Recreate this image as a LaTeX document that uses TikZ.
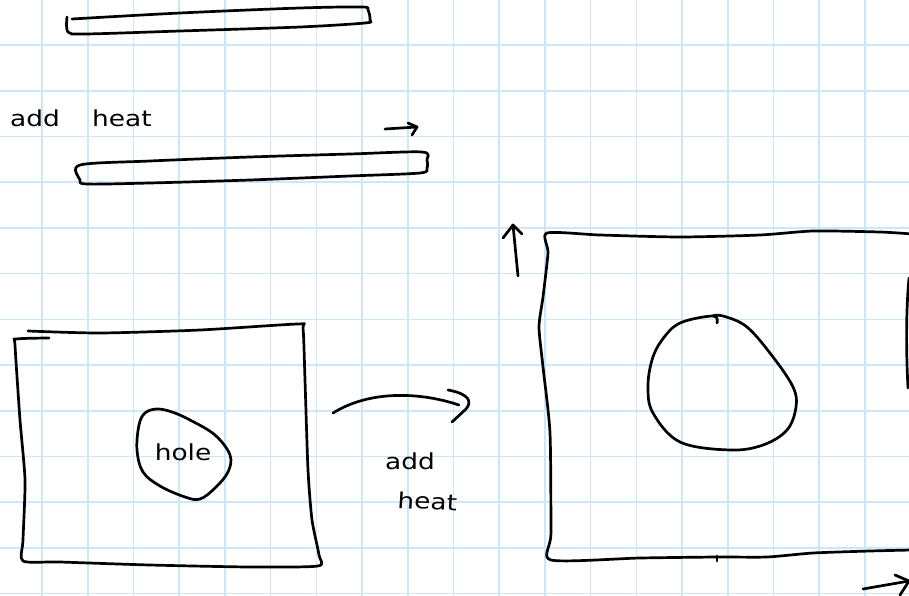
\documentclass[tikz,border=0pt]{standalone}
\usepackage{fontspec}
\newfontfamily\handfont{DejaVu Sans}
\definecolor{gridc}{RGB}{204,230,250}
\begin{document}
\begin{tikzpicture}[x=1pt,y=-1pt,
  pen/.style={draw=black,line width=2.7pt,line cap=round,line join=round},
  gridline/.style={draw=gridc,line width=1.6pt},
  handtext/.style={font=\handfont\fontsize{22}{24}\selectfont,inner sep=0pt,xscale=1.2},
  hand/.style={handtext,anchor=base west}]
\useasboundingbox (0,0) rectangle (909,596);
\clip (0,0) rectangle (909,596);
\fill[white] (0,0) rectangle (909,596);
% grid
\foreach \k in {0,...,18} \draw[gridline] ({42+45.72*\k},0) -- ({42+45.72*\k},596);
\foreach \k in {0,...,12} \draw[gridline] (0,{45+45.72*\k}) -- (909,{45+45.72*\k});
% top bar
\draw[pen] plot[smooth,tension=0.5] coordinates {(72,19) (180,13) (300,8) (362,7) (368,10) (370,20) (365,23) (300,27) (180,31) (85,34) (68,32) (67,17)};
% text add heat (top-left)
\node[hand] (add1) at (10,127) {add};
\node[hand] (heat1) at (92,127) {heat};
% small arrow
\coordinate (sa1) at (385,129);
\coordinate (sa2) at (417,127);
\draw[pen] (sa1) -- (sa2);
\draw[pen] (408,123) -- (sa2) -- (412,135);
% second bar
\draw[pen] plot[smooth cycle,tension=0.5] coordinates {(80,165) (150,161) (250,157) (350,154) (422,152) (427,160) (427,168) (420,173) (350,176) (250,180) (150,183) (87,184) (80,180)};
% left big rectangle
\draw[pen] plot[smooth,tension=0.4] coordinates {(28,331) (100,333) (200,330) (298,324) (303,328) (305,380) (308,470) (312,520) (319,555) (318,566) (250,567) (150,565) (60,562) (23,561) (23,540) (25,480) (20,420) (15,345) (16,339) (49,338)};
% hole
\draw[pen] plot[smooth cycle,tension=0.6] coordinates {(145,413) (157,409) (172,412) (190,420) (215,435) (230,455) (228,472) (215,488) (200,499) (185,497) (160,486) (143,472) (137,450) (139,425)};
\node[handtext] (hole) at (183,452) {hole};
% curved arrow
\coordinate (ca1) at (333,413);
\coordinate (ca2) at (459,405);
\draw[pen] (ca1) .. controls (370,390) and (420,392) .. (ca2);
\draw[pen] (448,390) .. controls (470,394) and (472,402) .. (466,409) -- (452,422);
% middle text
\node[hand] (add2) at (385,469) {add};
\node[hand,rotate=-3] (heat2) at (397,508) {heat};
% up arrow
\coordinate (ua1) at (518,276);
\coordinate (ua2) at (513,225);
\draw[pen] (ua1) -- (ua2);
\draw[pen] (503,238) -- (ua2) -- (522,234);
% right big rectangle
\draw[pen] plot[smooth,tension=0.4] coordinates {(912,234) (880,232) (813,231) (760,235) (680,237) (600,235) (547,233) (548,253) (543,297) (539,327) (543,367) (550,433) (551,533) (551,560) (640,558) (717,557) (767,557) (813,553) (870,551) (912,550)};
\draw[pen] (909,278) .. controls (906,310) and (906,350) .. (908,388);
\draw[pen] (717,556) -- (717,561);
% egg
\draw[pen] plot[smooth,tension=0.6] coordinates {(717,323) (713,316) (680,323) (662,340) (652,360) (648,387) (653,413) (680,442) (730,450) (763,445) (787,430) (796,407) (793,387) (773,357) (747,327) (723,316) (712,316)};
% bottom-right arrow
\coordinate (ba1) at (863,589);
\coordinate (ba2) at (909,581);
\draw[pen] (ba1) -- (ba2);
\draw[pen] (895,575) -- (ba2) -- (900,595);
\end{tikzpicture}
\end{document}
